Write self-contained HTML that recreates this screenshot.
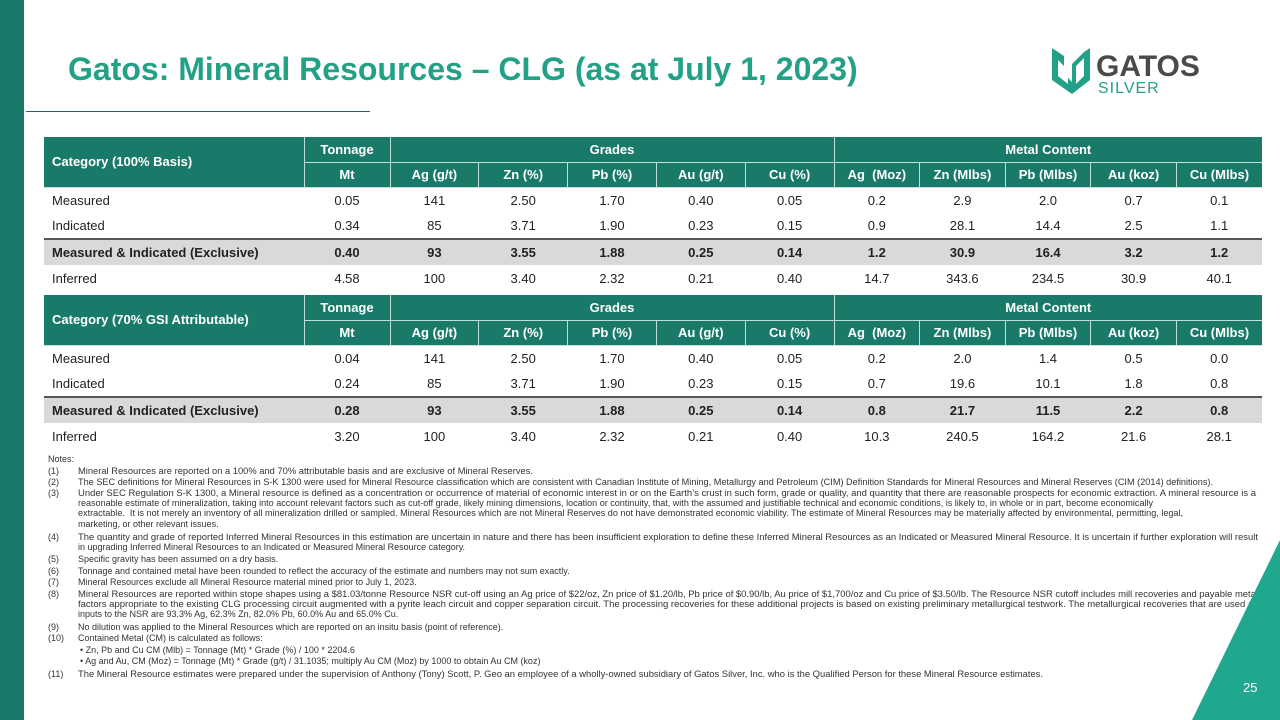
<!DOCTYPE html>
<html><head><meta charset="utf-8">
<style>
*{margin:0;padding:0;box-sizing:border-box}
body{width:1280px;height:720px;position:relative;overflow:hidden;background:#fff;font-family:"Liberation Sans",sans-serif;color:#222}
.abs{position:absolute}
table{position:absolute;left:44px;border-collapse:collapse;table-layout:fixed;width:1218px;font-size:13px}
td{height:26px;text-align:center;white-space:nowrap;padding:0}
th{background:#1a7a6a;color:#fff;font-weight:bold;height:25px;font-size:13px;border-left:1px solid #bfe0d8;border-bottom:1px solid #bfe0d8;padding:0;white-space:nowrap}
th.cat{text-align:left;padding-left:8px;border-left:none}
td.c{text-align:left;padding-left:8px}
tr.mi td{background:#d9d9d9;font-weight:bold;border-top:2px solid #555}
.notes{position:absolute;left:0;top:0;font-size:9px;color:#333;white-space:nowrap}
.n{position:absolute;left:48px}
.t{position:absolute;left:78px;transform-origin:0 0}
</style></head><body>
<div class="abs" style="left:0;top:0;width:24px;height:720px;background:#1a7a6a"></div>
<div class="abs" style="left:68px;top:51px;font-size:32px;font-weight:bold;color:#22a187;white-space:nowrap">Gatos: Mineral Resources – CLG (as at July 1, 2023)</div>
<div class="abs" style="left:26px;top:111px;width:344px;height:1px;background:#1a6a5e"></div>
<div class="abs" style="left:1050px;top:44px;width:175px;height:52px">
<svg width="50" height="52" viewBox="0 0 50 52" style="position:absolute;left:0;top:0"><path d="M2 4 L14 12 L14 30 L22 38 L22 20 L34 8 L40 4 L40 36 L22 50 L2 36 Z" fill="#22a187"/><path d="M26 22 L34 14 L34 32 L26 40 Z" fill="#fff"/><path d="M8 16 L8 32 L18 40 L18 26 Z" fill="#fff"/></svg>
<div class="abs" style="left:46px;top:6px;font-size:30px;font-weight:bold;color:#4a4a4a;letter-spacing:0px">GATOS</div>
<div class="abs" style="left:48px;top:36px;font-size:16px;color:#22a187;letter-spacing:1px">SILVER</div>
</div>

<table style="top:137px">
<colgroup><col style="width:260px"><col style="width:86px"><col style="width:88.8px"><col style="width:88.8px"><col style="width:88.8px"><col style="width:88.8px"><col style="width:88.8px"><col style="width:85.6px"><col style="width:85.6px"><col style="width:85.6px"><col style="width:85.6px"><col style="width:85.6px"></colgroup>
<tr><th class="cat" rowspan="2">Category (100% Basis)</th><th>Tonnage</th><th colspan="5">Grades</th><th colspan="5">Metal Content</th></tr>
<tr><th>Mt</th><th>Ag (g/t)</th><th>Zn (%)</th><th>Pb (%)</th><th>Au (g/t)</th><th>Cu (%)</th><th>Ag &nbsp;(Moz)</th><th>Zn (Mlbs)</th><th>Pb (Mlbs)</th><th>Au (koz)</th><th>Cu (Mlbs)</th></tr>
<tr><td class="c">Measured</td><td>0.05</td><td>141</td><td>2.50</td><td>1.70</td><td>0.40</td><td>0.05</td><td>0.2</td><td>2.9</td><td>2.0</td><td>0.7</td><td>0.1</td></tr>
<tr><td class="c">Indicated</td><td>0.34</td><td>85</td><td>3.71</td><td>1.90</td><td>0.23</td><td>0.15</td><td>0.9</td><td>28.1</td><td>14.4</td><td>2.5</td><td>1.1</td></tr>
<tr class="mi"><td class="c">Measured &amp; Indicated (Exclusive)</td><td>0.40</td><td>93</td><td>3.55</td><td>1.88</td><td>0.25</td><td>0.14</td><td>1.2</td><td>30.9</td><td>16.4</td><td>3.2</td><td>1.2</td></tr>
<tr><td class="c">Inferred</td><td>4.58</td><td>100</td><td>3.40</td><td>2.32</td><td>0.21</td><td>0.40</td><td>14.7</td><td>343.6</td><td>234.5</td><td>30.9</td><td>40.1</td></tr>
</table>

<table style="top:295px">
<colgroup><col style="width:260px"><col style="width:86px"><col style="width:88.8px"><col style="width:88.8px"><col style="width:88.8px"><col style="width:88.8px"><col style="width:88.8px"><col style="width:85.6px"><col style="width:85.6px"><col style="width:85.6px"><col style="width:85.6px"><col style="width:85.6px"></colgroup>
<tr><th class="cat" rowspan="2">Category (70% GSI Attributable)</th><th>Tonnage</th><th colspan="5">Grades</th><th colspan="5">Metal Content</th></tr>
<tr><th>Mt</th><th>Ag (g/t)</th><th>Zn (%)</th><th>Pb (%)</th><th>Au (g/t)</th><th>Cu (%)</th><th>Ag &nbsp;(Moz)</th><th>Zn (Mlbs)</th><th>Pb (Mlbs)</th><th>Au (koz)</th><th>Cu (Mlbs)</th></tr>
<tr><td class="c">Measured</td><td>0.04</td><td>141</td><td>2.50</td><td>1.70</td><td>0.40</td><td>0.05</td><td>0.2</td><td>2.0</td><td>1.4</td><td>0.5</td><td>0.0</td></tr>
<tr><td class="c">Indicated</td><td>0.24</td><td>85</td><td>3.71</td><td>1.90</td><td>0.23</td><td>0.15</td><td>0.7</td><td>19.6</td><td>10.1</td><td>1.8</td><td>0.8</td></tr>
<tr class="mi"><td class="c">Measured &amp; Indicated (Exclusive)</td><td>0.28</td><td>93</td><td>3.55</td><td>1.88</td><td>0.25</td><td>0.14</td><td>0.8</td><td>21.7</td><td>11.5</td><td>2.2</td><td>0.8</td></tr>
<tr><td class="c">Inferred</td><td>3.20</td><td>100</td><td>3.40</td><td>2.32</td><td>0.21</td><td>0.40</td><td>10.3</td><td>240.5</td><td>164.2</td><td>21.6</td><td>28.1</td></tr>
</table>

<div class="notes">
<div class="n" style="top:454px">Notes:</div>
<div class="n" style="top:466px">(1)</div><div class="t" style="top:466px" data-w="455">Mineral Resources are reported on a 100% and 70% attributable basis and are exclusive of Mineral Reserves.</div>
<div class="n" style="top:477px">(2)</div><div class="t" style="top:477px" data-w="1135">The SEC definitions for Mineral Resources in S-K 1300 were used for Mineral Resource classification which are consistent with Canadian Institute of Mining, Metallurgy and Petroleum (CIM) Definition Standards for Mineral Resources and Mineral Reserves (CIM (2014) definitions).</div>
<div class="n" style="top:488px">(3)</div><div class="t" style="top:488px" data-w="1178">Under SEC Regulation S-K 1300, a Mineral resource is defined as a concentration or occurrence of material of economic interest in or on the Earth’s crust in such form, grade or quality, and quantity that there are reasonable prospects for economic extraction. A mineral resource is a</div>
<div class="t" style="top:498px" data-w="1075">reasonable estimate of mineralization, taking into account relevant factors such as cut-off grade, likely mining dimensions, location or continuity, that, with the assumed and justifiable technical and economic conditions, is likely to, in whole or in part, become economically</div>
<div class="t" style="top:508px" data-w="1105">extractable. &nbsp;It is not merely an inventory of all mineralization drilled or sampled. Mineral Resources which are not Mineral Reserves do not have demonstrated economic viability. The estimate of Mineral Resources may be materially affected by environmental, permitting, legal,</div>
<div class="t" style="top:519px">marketing, or other relevant issues.</div>
<div class="n" style="top:532px">(4)</div><div class="t" style="top:532px" data-w="1180">The quantity and grade of reported Inferred Mineral Resources in this estimation are uncertain in nature and there has been insufficient exploration to define these Inferred Mineral Resources as an Indicated or Measured Mineral Resource. It is uncertain if further exploration will result</div>
<div class="t" style="top:542px">in upgrading Inferred Mineral Resources to an Indicated or Measured Mineral Resource category.</div>
<div class="n" style="top:554px">(5)</div><div class="t" style="top:554px">Specific gravity has been assumed on a dry basis.</div>
<div class="n" style="top:566px">(6)</div><div class="t" style="top:566px">Tonnage and contained metal have been rounded to reflect the accuracy of the estimate and numbers may not sum exactly.</div>
<div class="n" style="top:577px">(7)</div><div class="t" style="top:577px">Mineral Resources exclude all Mineral Resource material mined prior to July 1, 2023.</div>
<div class="n" style="top:589px">(8)</div><div class="t" style="top:589px" data-w="1180">Mineral Resources are reported within stope shapes using a $81.03/tonne Resource NSR cut-off using an Ag price of $22/oz, Zn price of $1.20/lb, Pb price of $0.90/lb, Au price of $1,700/oz and Cu price of $3.50/lb. The Resource NSR cutoff includes mill recoveries and payable metal</div>
<div class="t" style="top:599px" data-w="1180">factors appropriate to the existing CLG processing circuit augmented with a pyrite leach circuit and copper separation circuit. The processing recoveries for these additional projects is based on existing preliminary metallurgical testwork. The metallurgical recoveries that are used as</div>
<div class="t" style="top:609px">inputs to the NSR are 93.3% Ag, 62.3% Zn, 82.0% Pb, 60.0% Au and 65.0% Cu.</div>
<div class="n" style="top:622px">(9)</div><div class="t" style="top:622px">No dilution was applied to the Mineral Resources which are reported on an insitu basis (point of reference).</div>
<div class="n" style="top:633px">(10)</div><div class="t" style="top:633px">Contained Metal (CM) is calculated as follows:</div>
<div class="t" style="top:645px;left:80px">• Zn, Pb and Cu CM (Mlb) = Tonnage (Mt) * Grade (%) / 100 * 2204.6</div>
<div class="t" style="top:656px;left:80px">• Ag and Au, CM (Moz) = Tonnage (Mt) * Grade (g/t) / 31.1035; multiply Au CM (Moz) by 1000 to obtain Au CM (koz)</div>
<div class="n" style="top:669px">(11)</div><div class="t" style="top:669px" data-w="965">The Mineral Resource estimates were prepared under the supervision of Anthony (Tony) Scott, P. Geo an employee of a wholly-owned subsidiary of Gatos Silver, Inc. who is the Qualified Person for these Mineral Resource estimates.</div>
</div>

<svg class="abs" style="left:0;top:0" width="1280" height="720"><polygon points="1280,540 1192,720 1280,720" fill="#1fa88e"/></svg>
<div class="abs" style="left:1243px;top:680px;font-size:13px;color:#fff">25</div>
<script>
document.querySelectorAll('.t[data-w]').forEach(function(el){
  var w=el.getBoundingClientRect().width;var t=+el.getAttribute('data-w');
  if(w>0)el.style.transform='scaleX('+(t/w)+')';
});
</script>
</body></html>
